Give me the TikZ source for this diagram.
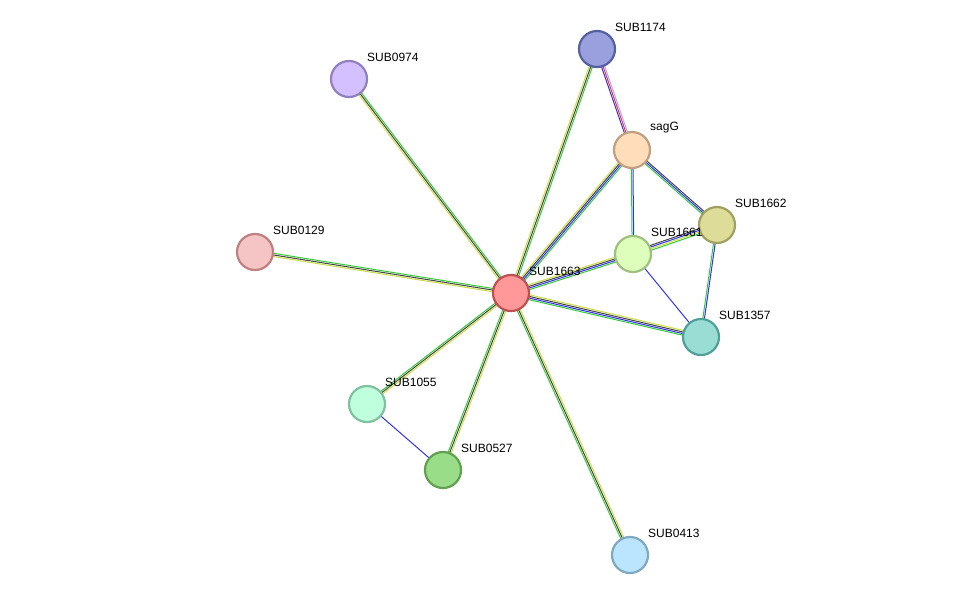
\documentclass[tikz,border=0pt]{standalone}
\usepackage{fontspec}
\setmainfont{Liberation Sans}
\usetikzlibrary{calc}
\definecolor{eg}{HTML}{33CC33}
\definecolor{ek}{HTML}{444444}
\definecolor{ey}{HTML}{CCDD44}
\definecolor{eb}{HTML}{3333EE}
\definecolor{er}{HTML}{EE3333}
\definecolor{el}{HTML}{AAAAFF}
\tikzset{
  prot/.style={circle, minimum size=36pt, inner sep=0, line width=2.2pt},
  lbl/.style={anchor=west, inner sep=0, font=\fontsize{12}{14}\selectfont},
}
% parallel coloured lines between two nodes
\newcommand{\stredge}[3]{%
  \foreach \c [count=\i] in {#3} {\xdef\ntot{\i}}%
  \foreach \c [count=\i] in {#3} {
    \pgfmathsetmacro{\o}{(\i-(\ntot+1)/2)*1.6}
    \draw[color=\c, line width=1pt] ($(#1)!\o pt!90:(#2)$) -- ($(#2)!\o pt!-90:(#1)$);
  }}
\begin{document}
\begin{tikzpicture}[x=1pt,y=-1pt]
\useasboundingbox (0,0) rectangle (976,600);
\coordinate (p1663) at (511,293);
\coordinate (p1174) at (597,49);
\coordinate (psagG) at (632,150);
\coordinate (p1662) at (717,225);
\coordinate (p1661) at (633,254);
\coordinate (p1357) at (701,337);
\coordinate (p0974) at (349,79);
\coordinate (p0129) at (255,252);
\coordinate (p1055) at (367,404);
\coordinate (p0527) at (443,470);
\coordinate (p0413) at (630,555);
% edges
\stredge{p1663}{p0974}{eg,ek,ey}
\stredge{p1663}{p0129}{eg,ek,ey}
\stredge{p1663}{p1055}{eg,ek,ey}
\stredge{p1663}{p0527}{eg,ek,ey}
\stredge{p1663}{p0413}{eg,ek,ey}
\stredge{p1663}{p1174}{eg,ek,ey}
\stredge{p1663}{psagG}{eg,eb,ek,ey}
\stredge{p1663}{p1661}{eg,eb,ek,ey}
\stredge{p1663}{p1357}{eg,eb,ek,ey}
\stredge{p1661}{p1662}{eg,ey,eb,ek}
\stredge{p1174}{psagG}{eb,er,el}
\stredge{psagG}{p1661}{eg,eb}
\stredge{psagG}{p1662}{eg,eb,ek}
\stredge{p1662}{p1357}{eg,eb}
\stredge{p1661}{p1357}{eb}
\stredge{p1055}{p0527}{eb}
% proteins
\node[prot, fill={rgb,255:red,255;green,153;blue,153}, draw={rgb,255:red,192;green,80;blue,80}] (n1663) at (p1663) {};
\node[prot, fill={rgb,255:red,153;green,160;blue,221}, draw={rgb,255:red,85;green,96;blue,160}] (n1174) at (p1174) {};
\node[prot, fill={rgb,255:red,255;green,221;blue,187}, draw={rgb,255:red,192;green,160;blue,128}] (nsagG) at (psagG) {};
\node[prot, fill={rgb,255:red,221;green,221;blue,153}, draw={rgb,255:red,160;green,160;blue,96}] (n1662) at (p1662) {};
\node[prot, fill={rgb,255:red,221;green,255;blue,187}, draw={rgb,255:red,160;green,192;blue,128}] (n1661) at (p1661) {};
\node[prot, fill={rgb,255:red,153;green,221;blue,213}, draw={rgb,255:red,80;green,160;blue,152}] (n1357) at (p1357) {};
\node[prot, fill={rgb,255:red,213;green,192;blue,255}, draw={rgb,255:red,144;green,128;blue,192}] (n0974) at (p0974) {};
\node[prot, fill={rgb,255:red,245;green,197;blue,197}, draw={rgb,255:red,192;green,128;blue,128}] (n0129) at (p0129) {};
\node[prot, fill={rgb,255:red,192;green,255;blue,221}, draw={rgb,255:red,128;green,192;blue,160}] (n1055) at (p1055) {};
\node[prot, fill={rgb,255:red,153;green,221;blue,136}, draw={rgb,255:red,96;green,160;blue,80}] (n0527) at (p0527) {};
\node[prot, fill={rgb,255:red,187;green,229;blue,255}, draw={rgb,255:red,128;green,168;blue,192}] (n0413) at (p0413) {};
% labels
\node[lbl] (l1663) at ([xshift=18pt,yshift=22pt]n1663) {SUB1663};
\node[lbl] (l1174) at ([xshift=18pt,yshift=22pt]n1174) {SUB1174};
\node[lbl] (lsagG) at ([xshift=18pt,yshift=22pt]nsagG) {sagG};
\node[lbl] (l1662) at ([xshift=18pt,yshift=22pt]n1662) {SUB1662};
\node[lbl] (l1661) at ([xshift=18pt,yshift=22pt]n1661) {SUB1661};
\node[lbl] (l1357) at ([xshift=18pt,yshift=22pt]n1357) {SUB1357};
\node[lbl] (l0974) at ([xshift=18pt,yshift=22pt]n0974) {SUB0974};
\node[lbl] (l0129) at ([xshift=18pt,yshift=22pt]n0129) {SUB0129};
\node[lbl] (l1055) at ([xshift=18pt,yshift=22pt]n1055) {SUB1055};
\node[lbl] (l0527) at ([xshift=18pt,yshift=22pt]n0527) {SUB0527};
\node[lbl] (l0413) at ([xshift=18pt,yshift=22pt]n0413) {SUB0413};
\end{tikzpicture}
\end{document}
